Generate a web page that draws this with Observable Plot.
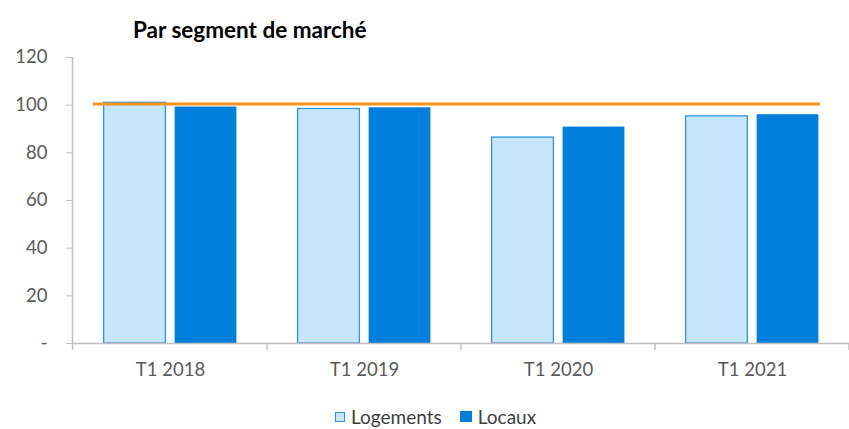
<!DOCTYPE html>
<html>
<head>
<meta charset="utf-8">
<script src="https://cdn.jsdelivr.net/npm/d3@7"></script>
<script src="https://cdn.jsdelivr.net/npm/@observablehq/plot@0.6"></script>
<style>
  html, body { margin: 0; padding: 0; background: #fff; }
  #wrap { position: relative; width: 849px; height: 429px; overflow: hidden; font-family: Lato, "Open Sans", sans-serif; }
  #title { position: absolute; left: 133px; top: 16px; font-size: 22.5px; font-weight: bold; color: #000; white-space: nowrap; }
  #chart { position: absolute; left: 0; top: 0; }
  #legend { position: absolute; left: 335px; top: 406px; font-size: 19px; color: #404040; display: flex; align-items: center; white-space: nowrap; line-height: 21px; }
  .sw { display: inline-block; width: 10px; height: 10px; margin-right: 6px; box-sizing: border-box; }
  .item { display: flex; align-items: center; margin-right: 18px; }
</style>
</head>
<body>
<div id="wrap">
  <div id="chart"></div>
  <div id="title">Par segment de marché</div>
  <div id="legend"></div>
</div>
<script>
const categories = ["T1 2018", "T1 2019", "T1 2020", "T1 2021"];
const series = ["Logements", "Locaux"];
const logements = [101.0, 98.4, 86.4, 95.3];
const locaux = [99.2, 98.9, 90.8, 96.0];
const referenceLevel = [100.5];
const yTicks = [0, 20, 40, 60, 80, 100, 120];

const colors = {
  Logements: { fill: "#C7E6FC", stroke: "#2F93E6" },
  Locaux: { fill: "#0080DC", stroke: "#2F93E6" }
};

const rows = [];
categories.forEach((c, i) => {
  rows.push({ category: c, series: "Logements", value: logements[i] });
  rows.push({ category: c, series: "Locaux", value: locaux[i] });
});

const W = 849, H = 400, mL = 72, mR = 0, mT = 57, mB = 57;
const band = (W - mL - mR) / categories.length;
// bar layout inside each band: outer gap ~30.6, bar ~62, inner gap ~9
const outer = band * 0.1575, gap = band * 0.0463;
const barW = (band - 2 * outer - gap) / 2;

const chart = Plot.plot({
  width: W,
  height: H,
  marginLeft: mL,
  marginRight: mR,
  marginTop: mT,
  marginBottom: mB,
  style: { fontFamily: "Lato, 'Open Sans', sans-serif", fontSize: "18.5px", color: "#595959", background: "transparent" },
  x: { domain: categories, padding: 0, tickSize: 0, tickPadding: 19, label: null },
  y: { domain: [0, 120], ticks: yTicks, tickSize: 6, tickPadding: 19, label: null,
       tickFormat: d => d === 0 ? "-" : String(d) },
  marks: [
    Plot.barY(rows.filter(d => d.series === "Logements"), {
      x: "category", y: "value",
      fill: colors.Logements.fill, stroke: colors.Logements.stroke, strokeWidth: 1.3,
      insetLeft: outer, insetRight: outer + gap + barW
    }),
    Plot.barY(rows.filter(d => d.series === "Locaux"), {
      x: "category", y: "value",
      fill: colors.Locaux.fill,
      insetLeft: outer + barW + gap, insetRight: outer
    }),
    Plot.ruleY(referenceLevel, { stroke: "#F7941D", strokeWidth: 3, insetLeft: 21, insetRight: 29 }),
    Plot.ruleY([0], { stroke: "#BFBFBF", strokeWidth: 1.5 })
  ]
});

// axis lines and band-boundary ticks in the Excel style, placed with Plot's scales
const xs = chart.scale("x");
const ys = chart.scale("y");
const svg = d3.select(chart);
svg.selectAll("[aria-label='y-axis tick'] path, g[aria-label='y-axis'] path").attr("stroke", "#BFBFBF");
svg.append("line")
  .attr("x1", mL + 0.5).attr("x2", mL + 0.5)
  .attr("y1", ys.apply(120)).attr("y2", ys.apply(0) + 7)
  .attr("stroke", "#BFBFBF").attr("stroke-width", 1.5);
categories.slice(1).concat([null]).forEach((c, i) => {
  const x = c === null ? xs.apply(categories[categories.length - 1]) + xs.bandwidth : xs.apply(c);
  svg.append("line")
    .attr("x1", x).attr("x2", x)
    .attr("y1", ys.apply(0)).attr("y2", ys.apply(0) + 7)
    .attr("stroke", "#BFBFBF").attr("stroke-width", 1.5);
});
svg.selectAll("text").attr("fill", "#595959");

document.getElementById("chart").appendChild(chart);

const legend = document.getElementById("legend");
series.forEach(s => {
  const item = document.createElement("span");
  item.className = "item";
  const sw = document.createElement("span");
  sw.className = "sw";
  sw.style.background = colors[s].fill;
  sw.style.border = "1px solid " + colors[s].stroke;
  if (s === "Locaux") sw.style.border = "none", sw.style.width = "12px", sw.style.height = "11px";
  item.appendChild(sw);
  item.appendChild(document.createTextNode(s));
  legend.appendChild(item);
});
</script>
</body>
</html>
